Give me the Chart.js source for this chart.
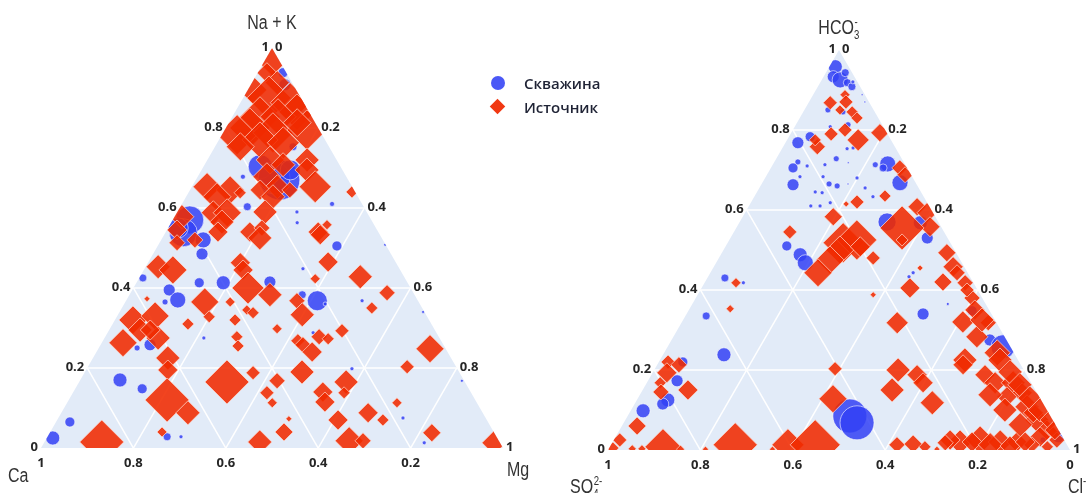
<!DOCTYPE html>
<html lang="ru">
<head>
<meta charset="UTF-8">
<title>Ternary diagrams</title>
<script src="https://cdn.jsdelivr.net/npm/chart.js@4.4.1/dist/chart.umd.min.js"></script>
<style>
  body { margin: 0; width: 1086px; height: 493px; overflow: hidden; background: #fff; position: relative; }
  .plot { position: absolute; top: 0; width: 543px; height: 493px; }
  .ttl { position: absolute; font-family: 'Liberation Sans', Arial, sans-serif;
         font-size: 20px; color: #333; white-space: nowrap; line-height: 20px;
         transform: scaleX(0.8); transform-origin: 0 0; }
  .ttl.mid { transform: translateX(-50%) scaleX(0.8); transform-origin: 50% 0; }
  .ttl sub, .ttl sup { font-size: 12px; }
  .leg { position: absolute; left: 524px; font-family: 'Open Sans', sans-serif; font-weight: 600;
         font-size: 15px; color: #1f2335; line-height: 20px; white-space: nowrap; }
  .mk { position: absolute; }
</style>
</head>
<body>
<div class="plot" style="left:0"><canvas id="cationChart" width="543" height="493"></canvas></div>
<div class="plot" style="left:543px"><canvas id="anionChart" width="543" height="493"></canvas></div>

<div class="ttl mid" style="left:272px; top:12px">Na + K</div>
<div class="ttl" style="left:8px; top:465px">Ca</div>
<div class="ttl" style="left:507px; top:459px">Mg</div>
<div class="ttl mid" style="left:838px; top:12px">HCO<sub>3</sub><sup style="margin-left:-6px">-</sup></div>
<div class="ttl" style="left:570px; top:471px">SO<sub>4</sub><sup style="margin-left:-6px">2-</sup></div>
<div class="ttl" style="left:1068px; top:471px">Cl<sup>-</sup></div>

<div class="mk" style="left:491px; top:76px; width:14px; height:14px; border-radius:50%; background:rgba(55,70,245,0.9)"></div>
<div class="mk" style="left:492px; top:101px; width:11px; height:11px; transform:rotate(45deg); background:rgba(240,45,5,0.95)"></div>
<div class="leg" style="top:73px">Скважина</div>
<div class="leg" style="top:97px">Источник</div>

<script>
    // ---- cation diagram: Na+K (top), Ca (left), Mg (right) ----
    const wellNaK = [.938,.908,.753,.67,.703,.675,.695,.603,.678,.61,.59,.563,.57,.538,.55,.52,.485,.425,.413,.413,.415,.395,.37,.365,.258,.25,.275,.17,.148,.065,.025,.028,.028,.505,.448,.368,.383,.36,.368,.288,.198,.075,.013,.168,.34,.508];
    const wellMg  = [.055,.074,.169,.182,.123,.167,.192,.145,.098,.325,.259,.273,.037,.039,.022,.091,.106,.008,.136,.188,.288,.08,.111,.086,.107,.083,.215,.086,.145,.03,.013,.259,.289,.388,.343,.414,.374,.435,.511,.445,.574,.746,.823,.827,.657,.491];
    const wellSize1 = [5,6,4,20,12,16,10,4,2.5,2.5,2,2,14,14,10,8,6,4,5,7,6,6,8,3,6,3,2,7,5,5,7,4,2,5,2,10,4,2,2,2,2,2,2,1.5,1.5,1.5];

    const springNaK = [.965,.938,.913,.895,.875,.863,.84,.828,.828,.8,.783,.788,.795,.77,.763,.753,.813,.72,.708,.678,.72,.695,.653,.653,.645,.628,.645,.64,.653,.645,.628,.588,.588,.638,.565,.59,.54,.55,.525,.558,.54,.578,.545,.513,.52,.54,.453,.445,.463,.445,.4,.383,.373,.365,.328,.365,.32,.33,.295,.263,.275,.295,.31,.32,.345,.338,.278,.255,.225,.195,.165,.188,.12,.088,.138,.113,.015,.04,.015,.533,.465,.423,.428,.388,.368,.333,.35,.298,.293,.278,.273,.268,.258,.24,.248,.203,.19,.168,.165,.14,.115,.138,.113,.088,.07,.07,.073,.04,.018,.018,.038,.013];
    const springMg  = [.018,.02,.055,.011,.056,.108,.134,.06,.099,.052,.033,.108,.178,.089,.143,.055,.148,.136,.17,.15,.216,.228,.267,.185,.152,.188,.216,.353,.033,.087,.067,.079,.109,.112,.109,.19,.182,.203,.211,.34,.33,.016,.022,.038,.073,.113,.027,.063,.2,.215,.248,.304,.043,.172,.2,.227,.039,.082,.067,.046,.116,.089,.163,.26,.273,.29,.285,.299,.162,.177,.32,.365,.213,.274,.42,.444,.124,.242,.466,.338,.389,.382,.477,.555,.37,.399,.541,.362,.505,.463,.485,.422,.438,.467,.718,.691,.47,.427,.578,.54,.557,.587,.714,.664,.608,.705,.5,.506,.658,.688,.827,.974];
    const springSize1 = [14,10,12,14,22,20,18,20,18,20,20,20,20,18,16,14,14,14,12,14,12,12,16,12,10,12,8,6,14,14,14,12,14,6,12,12,10,8,12,5,10,12,10,8,8,10,12,14,10,10,16,12,3,14,6,5,14,14,12,14,12,10,6,6,5,6,6,6,12,10,22,7,22,12,7,5,22,5,12,10,10,5,12,8,8,12,6,5,7,8,6,7,8,10,14,7,12,8,12,10,10,6,5,10,10,6,3,9,14,8,9,12];

    // ---- anion diagram: HCO3 (top), SO4 (left), Cl (right) ----
    const wellHCO3 = [.958,.933,.925,.943,.918,.908,.92,.888,.87,.85,.845,.783,.768,.813,.808,.753,.755,.728,.713,.718,.72,.705,.71,.663,.683,.683,.665,.66,.665,.645,.643,.61,.61,.618,.713,.715,.705,.668,.655,.633,.68,.57,.568,.53,.51,.488,.468,.43,.418,.335,.238,.22,.173,.125,.115,.098,.085,.068,.443,.433,.365,.34,.348,.275,.258,.033,.025];
    const wellCl   = [.013,.021,.04,.042,.059,.074,.07,.106,.121,.051,.086,.046,.027,.113,.077,.141,.153,.13,.113,.161,.051,.048,.076,.069,.074,.124,.146,.166,.187,.126,.142,.134,.154,.172,.222,.248,.243,.298,.229,.257,.199,.319,.392,.426,.132,.172,.193,.038,.084,.045,.132,.052,.063,.067,.061,.027,.481,.505,.439,.435,.553,.512,.614,.689,.726,.958,.929];
    const wellSize2 = [7,6,8,4,4,4,2,1,1,3,3,5,6,3,2,2,2,3,2,1,3,5,2,6,2,2,3,3,1,2,2,2,2,2,3,8,4,8,2,2,2,9,7,6,5,7,8,4,2,4,7,5,6,7,6,7,17,17,2,2,1.5,6,5,6,12,6,3];

    const springHCO3 = [.888,.87,.868,.85,.845,.83,.8,.79,.775,.793,.758,.775,.615,.62,.635,.705,.688,.583,.545,.608,.593,.558,.555,.518,.525,.5,.475,.443,.508,.48,.525,.418,.353,.203,.22,.213,.193,.168,.145,.15,.06,.025,.005,.008,.013,.013,.013,.003,.003,.002,.002,.002,.128,.493,.458,.443,.418,.42,.38,.4,.405,.388,.455,.318,.32,.283,.318,.243,.225,.213,.2,.188,.168,.15,.118,.188,.168,.168,.143,.133,.108,.075,.05,.033,.043,.093,.025,.013,.015,.02,.025,.02,.02,.013,.02,.008,.002,
                        .35,.325,.225,.195,.163,.13,.1,.075,.05,.138,.1,.063,.025,.013,.01,.02,.008,.018];
    const springCl   = [.069,.08,.047,.077,.106,.124,.113,.088,.154,.192,.074,.061,.208,.229,.282,.279,.299,.196,.121,.365,.394,.418,.359,.25,.276,.252,.243,.233,.292,.334,.374,.068,.088,.39,.02,.047,.031,.029,.042,.098,.033,.013,.008,.115,.269,.383,.442,.051,.072,.156,.21,.355,.423,.487,.518,.534,.564,.515,.598,.577,.451,.38,.448,.467,.608,.657,.664,.721,.66,.662,.528,.575,.598,.54,.643,.722,.754,.793,.825,.797,.853,.891,.925,.919,.942,.874,.959,.619,.653,.752,.793,.839,.875,.911,.778,.947,.711,
                        .619,.647,.736,.773,.81,.848,.885,.919,.942,.758,.809,.861,.728,.821,.865,.893,.682,.721];
    const springSize2 = [5,7,7,5,6,6,7,7,11,9,8,6,3,7,6,8,8,9,7,9,10,10,22,20,20,14,14,14,10,7,6,5,4,7,7,8,10,6,8,10,9,7,6,18,22,16,25,4,4,4,3,3,14,9,10,8,8,9,8,7,10,3,3,11,11,11,8,13,12,10,12,10,10,12,12,10,11,12,10,10,12,12,10,10,6,10,8,8,9,12,14,12,10,8,10,6,3,
                        10,12,12,12,12,12,12,10,10,12,12,12,10,12,10,10,6,8];

    const tickVals = [0, 0.2, 0.4, 0.6, 0.8, 1];
    const tickText = ['0', '0.2', '0.4', '0.6', '0.8', '1'];
    const gridVals = [0.2, 0.4, 0.6, 0.8];

    const H = Math.sqrt(3) / 2;
    // top component a, right component c -> cartesian, left = 1 - a - c
    function tern(a, c) { return { x: c + a / 2, y: a * H }; }
    function toPoints(top, right, size) {
        return top.map((a, i) => ({ ...tern(a, right[i]), r: size[i] }));
    }

    const ternaryPlugin = {
        id: 'ternary',
        beforeDatasetsDraw(chart) {
            const { ctx, scales: { x, y } } = chart;
            const px = (a, c) => { const p = tern(a, c); return [x.getPixelForValue(p.x), y.getPixelForValue(p.y)]; };
            const tri = () => {
                ctx.beginPath();
                ctx.moveTo(...px(1, 0)); ctx.lineTo(...px(0, 0)); ctx.lineTo(...px(0, 1)); ctx.closePath();
            };
            ctx.save();
            tri();
            ctx.fillStyle = '#e2ebf8';
            ctx.fill();
            ctx.strokeStyle = '#ffffff';
            ctx.lineWidth = 1.5;
            const seg = (p, q) => { ctx.beginPath(); ctx.moveTo(...p); ctx.lineTo(...q); ctx.stroke(); };
            gridVals.forEach(v => {
                seg(px(v, 0), px(v, 1 - v));        // top axis
                seg(px(0, 1 - v), px(1 - v, 0));    // left axis
                seg(px(0, v), px(1 - v, v));        // right axis
            });
            ctx.restore();
            // markers are clipped to the triangle
            ctx.save();
            tri();
            ctx.clip();
        },
        afterDatasetsDraw(chart, args, opts) {
            const { ctx, scales: { x, y } } = chart;
            ctx.restore();
            const px = (a, c) => { const p = tern(a, c); return [x.getPixelForValue(p.x), y.getPixelForValue(p.y)]; };
            ctx.save();
            ctx.font = 'bold 13px "Open Sans"';
            ctx.fillStyle = '#262626';
            ctx.textBaseline = 'middle';
            tickVals.forEach((v, i) => {
                const t = tickText[i];
                let [X, Y] = px(v, 0);
                ctx.textAlign = 'right';
                ctx.fillText(t, X - 3, Y - 1);
                [X, Y] = px(1 - v, v);
                ctx.textAlign = 'left';
                ctx.fillText(t, X + 3, Y - 1);
                if (v === 0 && opts.hideBottomZero) return;
                [X, Y] = px(0, 1 - v);
                ctx.textAlign = 'center';
                ctx.fillText(t, X, Y + 15);
            });
            ctx.restore();
        }
    };

    function createChart(canvasId, wells, springs, originX, baseY, hideBottomZero) {
        const unit = 462, w = 543, h = 493;
        return new Chart(document.getElementById(canvasId), {
            type: 'bubble',
            data: {
                datasets: [{
                    label: 'Источник',
                    data: springs,
                    order: 1,
                    pointStyle: 'rectRot',
                    backgroundColor: 'rgba(240, 42, 0, 0.88)',
                    borderColor: 'rgba(255, 220, 210, 0.7)',
                    borderWidth: 1
                }, {
                    label: 'Скважина',
                    data: wells,
                    order: 2,
                    pointStyle: 'circle',
                    backgroundColor: 'rgba(50, 65, 245, 0.85)',
                    borderColor: 'rgba(255, 255, 255, 0.6)',
                    borderWidth: 1
                }]
            },
            options: {
                responsive: false,
                animation: false,
                events: [],
                layout: { padding: 0, autoPadding: false },
                scales: {
                    x: { type: 'linear', display: false, min: -originX / unit, max: (w - originX) / unit },
                    y: { type: 'linear', display: false, min: -(h - baseY) / unit, max: baseY / unit }
                },
                plugins: {
                    legend: { display: false },
                    tooltip: { enabled: false },
                    ternary: { hideBottomZero: hideBottomZero }
                }
            },
            plugins: [ternaryPlugin]
        });
    }

    createChart('cationChart', toPoints(wellNaK, wellMg, wellSize1), toPoints(springNaK, springMg, springSize1), 41, 448, true);
    createChart('anionChart', toPoints(wellHCO3, wellCl, wellSize2), toPoints(springHCO3, springCl, springSize2), 65, 450, false);
</script>
</body>
</html>
